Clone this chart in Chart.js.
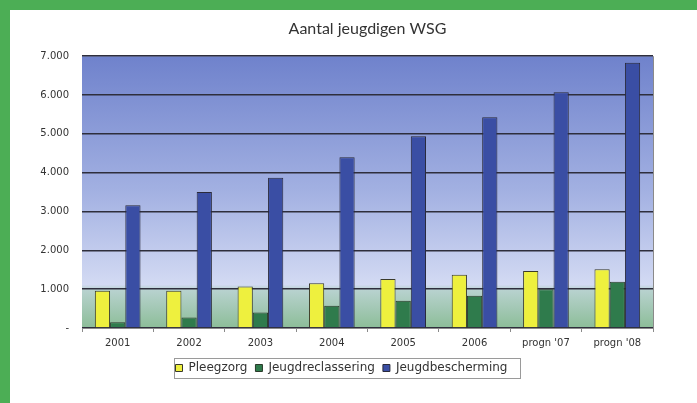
<!DOCTYPE html>
<html>
<head>
<meta charset="utf-8">
<script src="https://cdn.jsdelivr.net/npm/chart.js@4.4.0/dist/chart.umd.min.js"></script>
<style>
  html, body { margin: 0; padding: 0; }
  body { width: 697px; height: 403px; background: #4cae55; overflow: hidden; position: relative; }
  #paneel { position: absolute; left: 10px; top: 10px; width: 687px; height: 393px; background: #fff; }
</style>
</head>
<body>
<div id="paneel"><canvas id="grafiek" width="687" height="393"></canvas></div>
<script>
// gegevens
const jaren = ['2001', '2002', '2003', '2004', '2005', '2006', "progn '07", "progn '08"];
const pleegzorg = [960, 960, 1070, 1150, 1260, 1370, 1470, 1510];
const jeugdreclassering = [150, 270, 400, 570, 700, 830, 1000, 1190];
const jeugdbescherming = [3160, 3500, 3870, 4400, 4940, 5430, 6070, 6830];
const yTicks = [0, 1000, 2000, 3000, 4000, 5000, 6000, 7000];

const puntjes = (v) => v === 0 ? '-' : String(v).replace(/\B(?=(\d{3})+(?!\d))/g, '.');

// achtergrond van het plotvlak (blauw naar groen)
const achtergrond = {
  id: 'achtergrond',
  beforeDraw(chart) {
    const { ctx, chartArea: a } = chart;
    const g = ctx.createLinearGradient(0, a.top, 0, a.bottom);
    g.addColorStop(0, '#6f82cc');
    g.addColorStop(0.5, '#a3b1e2');
    g.addColorStop(0.84, '#d3daf3');
    g.addColorStop(0.86, '#b8d2cf');
    g.addColorStop(1, '#8cbd98');
    ctx.save();
    ctx.fillStyle = g;
    ctx.fillRect(a.left, a.top, a.right - a.left, a.bottom - a.top);
    ctx.restore();
  },
  afterDraw(chart) {
    const { ctx, chartArea: a } = chart;
    ctx.save();
    ctx.strokeStyle = '#8a8a8a';
    ctx.lineWidth = 1;
    ctx.beginPath();
    ctx.moveTo(a.right + 0.5, a.top);
    ctx.lineTo(a.right + 0.5, a.bottom);
    ctx.stroke();
    // kader om de legenda
    const items = chart.legend.legendHitBoxes;
    if (items && items.length) {
      const x0 = items[0].left - 2;
      const last = items[items.length - 1];
      const x1 = last.left + last.width + 12;
      const y0 = items[0].top + items[0].height / 2 - 10;
      ctx.strokeStyle = '#9a9a9a';
      ctx.strokeRect(Math.round(x0) + 0.5, Math.round(y0) + 0.5, Math.round(x1 - x0), 20);
    }
    ctx.restore();
  }
};

new Chart(document.getElementById('grafiek'), {
  type: 'bar',
  data: {
    labels: jaren,
    datasets: [
      { label: 'Pleegzorg', data: pleegzorg, backgroundColor: '#eef03e', borderColor: '#3a3a2a', borderWidth: 1 },
      { label: 'Jeugdreclassering', data: jeugdreclassering, backgroundColor: '#2f7b4c', borderColor: '#2a3a2a', borderWidth: 1 },
      { label: 'Jeugdbescherming', data: jeugdbescherming, backgroundColor: '#3a4ea4', borderColor: '#2a2a3a', borderWidth: 1 }
    ]
  },
  options: {
    responsive: false,
    animation: false,
    layout: { padding: { left: 20, right: 44, top: 9, bottom: 19 } },
    datasets: { bar: { barPercentage: 1, categoryPercentage: 0.64 } },
    scales: {
      x: {
        grid: { display: true, drawOnChartArea: false, tickLength: 4, color: '#8a8a8a' },
        border: { color: '#8a8a8a' },
        ticks: { color: '#333', font: { family: 'DejaVu Sans', size: 10 }, padding: 5, maxRotation: 0 }
      },
      y: {
        min: 0, max: 7000,
        afterBuildTicks(scale) { scale.ticks = yTicks.map(v => ({ value: v })); },
        afterFit(scale) { scale.width = 52; },
        grid: { color: '#2e2e3c', lineWidth: 1.6, drawTicks: false },
        border: { display: false },
        ticks: { color: '#333', font: { family: 'DejaVu Sans', size: 10 }, padding: 13, callback: puntjes }
      }
    },
    plugins: {
      title: {
        display: true,
        fullSize: false,
        text: 'Aantal jeugdigen WSG',
        color: '#333',
        font: { family: 'Lato', size: 16, weight: 'normal' },
        padding: { top: 0, bottom: 18 }
      },
      legend: {
        position: 'bottom',
        labels: { boxWidth: 7, boxHeight: 7, padding: 8, color: '#333', font: { family: 'DejaVu Sans', size: 12 } }
      },
      tooltip: { enabled: false }
    }
  },
  plugins: [achtergrond]
});
</script>
</body>
</html>
